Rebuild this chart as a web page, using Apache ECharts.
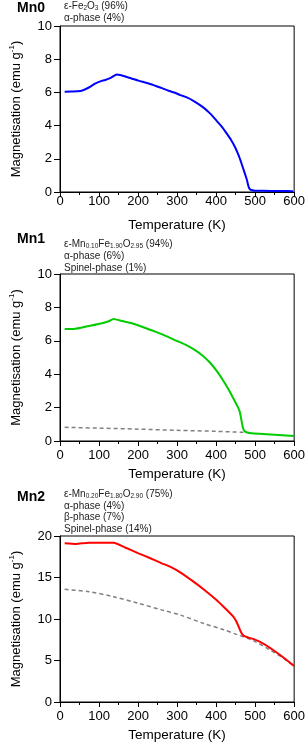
<!DOCTYPE html>
<html>
<head>
<meta charset="utf-8">
<script src="https://cdn.jsdelivr.net/npm/echarts@6/dist/echarts.min.js"></script>
<style>html,body{margin:0;padding:0;background:#fff}#c{width:308px;height:745px}</style>
</head>
<body>
<div id="c"></div>
<script>
// ---- data ----
const xTicks = [0, 100, 200, 300, 400, 500, 600];
const mn0T = [12, 30, 52, 65, 80, 91, 105, 116, 130, 146, 175, 201, 225, 244, 260, 278, 295, 308, 325, 345, 367, 385, 401, 415, 427, 438, 448, 457, 465, 471, 476, 479, 482, 485, 490, 499, 520, 560, 597];
const mn0M = [6.04, 6.05, 6.08, 6.19, 6.38, 6.55, 6.68, 6.75, 6.88, 7.08, 6.9, 6.71, 6.55, 6.40, 6.27, 6.10, 5.98, 5.84, 5.70, 5.45, 5.10, 4.72, 4.30, 3.92, 3.53, 3.15, 2.73, 2.25, 1.73, 1.3, 0.95, 0.72, 0.42, 0.22, 0.12, 0.08, 0.07, 0.06, 0.05];
const mn1T = [12, 35, 74, 108, 125, 137, 160, 184, 215, 244, 278, 296, 320, 345, 365, 384, 402, 418, 432, 444, 452, 459, 463, 466, 469, 473, 478, 490, 520, 560, 600];
const mn1M = [6.71, 6.71, 6.89, 7.05, 7.17, 7.31, 7.18, 7.05, 6.8, 6.55, 6.22, 6.03, 5.78, 5.46, 5.12, 4.70, 4.18, 3.62, 3.08, 2.56, 2.2, 1.86, 1.5, 1.1, 0.76, 0.6, 0.52, 0.46, 0.42, 0.36, 0.30];
const mn1RefT = [12, 100, 200, 300, 400, 470];
const mn1RefM = [0.82, 0.77, 0.71, 0.64, 0.58, 0.52];
const mn2T = [12, 40, 74, 100, 137, 170, 201, 230, 261, 282, 308, 342, 370, 401, 425, 444, 452, 458, 463, 468, 474, 482, 495, 520, 546, 570, 600];
const mn2M = [19.12, 19.04, 19.2, 19.2, 19.2, 18.55, 17.91, 17.35, 16.71, 16.3, 15.62, 14.5, 13.5, 12.29, 11.2, 10.28, 9.7, 9.05, 8.5, 8.1, 7.9, 7.78, 7.6, 7.07, 6.27, 5.45, 4.34];
const mn2RefT = [12, 74, 137, 201, 260, 308, 367, 420, 452, 495, 537, 570, 600];
const mn2RefM = [13.57, 13.29, 12.69, 11.89, 11.1, 10.48, 9.48, 8.7, 8.15, 7.4, 6.3, 5.35, 4.3];

const panelNames = ['Mn0', 'Mn1', 'Mn2'];
const phaseLines = [
  ['{a|ε-Fe}{s|2}{a|O}{s|3}{a| (96%)}', '{a|α-phase (4%)}'],
  ['{a|ε-Mn}{s|0.10}{a|Fe}{s|1.90}{a|O}{s|2.95}{a| (94%)}', '{a|α-phase (6%)}', '{a|Spinel-phase (1%)}'],
  ['{a|ε-Mn}{s|0.20}{a|Fe}{s|1.80}{a|O}{s|2.90}{a| (75%)}', '{a|α-phase (4%)}', '{a|β-phase (7%)}', '{a|Spinel-phase (14%)}']
];

// ---- layout ----
const FONT = '"Liberation Sans", Arial, sans-serif';
const grids = [
  {left: 59.5, top: 26, width: 235.5, height: 166},
  {left: 59.5, top: 274, width: 235.5, height: 167},
  {left: 59.5, top: 536, width: 235.5, height: 166}
];
const yRanges = [[0, 10, 2], [0, 10, 2], [0, 20, 5]];
const xLabelMargin = [3, 8, 8];
const nameY = [8, 239, 497];
const phaseY = [[6, 18], [244, 256, 268], [494, 506, 517.5, 529]];

const zip = (a, b) => a.map((v, i) => [v, b[i]]);

const option = {
  animation: false,
  backgroundColor: '#fff',
  grid: grids.map(g => Object.assign({show: true, borderColor: '#000', borderWidth: 1, backgroundColor: 'transparent'}, g)),
  xAxis: grids.map((g, i) => ({
    type: 'value', gridIndex: i, min: xTicks[0], max: xTicks[xTicks.length - 1], interval: xTicks[1] - xTicks[0],
    name: 'Temperature (K)', nameLocation: 'middle', nameGap: 26,
    nameTextStyle: {fontFamily: FONT, fontSize: 13.5, color: '#000'},
    axisLine: {show: true, onZero: false, lineStyle: {color: '#000', width: 1}},
    axisTick: {show: true, inside: false, length: 5, lineStyle: {color: '#000'}},
    minorTick: {show: true, splitNumber: 2, length: 3, lineStyle: {color: '#000'}},
    splitLine: {show: false}, minorSplitLine: {show: false},
    axisLabel: {fontFamily: FONT, fontSize: 13, color: '#000', margin: xLabelMargin[i]}
  })),
  yAxis: grids.map((g, i) => ({
    type: 'value', gridIndex: i, min: yRanges[i][0], max: yRanges[i][1], interval: yRanges[i][2],
    name: '{m|Magnetisation (emu g}{p|-1}{m|)}', nameLocation: 'middle', nameRotate: 90, nameGap: 36,
    nameTextStyle: {fontFamily: FONT, fontSize: 13, color: '#000',
      rich: {m: {fontFamily: FONT, fontSize: 13, lineHeight: 16, color: '#000'},
             p: {fontFamily: FONT, fontSize: 8, lineHeight: 8, verticalAlign: 'top', color: '#000'}}},
    axisLine: {show: true, onZero: false, lineStyle: {color: '#000', width: 1}},
    axisTick: {show: true, inside: false, length: 6, lineStyle: {color: '#000'}},
    splitLine: {show: false},
    axisLabel: {fontFamily: FONT, fontSize: 13, color: '#000', margin: 8}
  })),
  series: [
    {type: 'line', xAxisIndex: 0, yAxisIndex: 0, data: zip(mn0T, mn0M), showSymbol: false, smooth: 0.2,
     lineStyle: {color: '#0000ff', width: 2}, z: 3},
    {type: 'line', xAxisIndex: 1, yAxisIndex: 1, data: zip(mn1RefT, mn1RefM), showSymbol: false, smooth: 0.3,
     lineStyle: {color: '#808080', width: 1.5, type: [4, 3]}, z: 2},
    {type: 'line', xAxisIndex: 1, yAxisIndex: 1, data: zip(mn1T, mn1M), showSymbol: false, smooth: 0.2,
     lineStyle: {color: '#00cc00', width: 2}, z: 3},
    {type: 'line', xAxisIndex: 2, yAxisIndex: 2, data: zip(mn2RefT, mn2RefM), showSymbol: false, smooth: 0.3,
     lineStyle: {color: '#808080', width: 1.5, type: [4, 3]}, z: 2},
    {type: 'line', xAxisIndex: 2, yAxisIndex: 2, data: zip(mn2T, mn2M), showSymbol: false, smooth: 0.2,
     lineStyle: {color: '#ff0000', width: 2}, z: 3}
  ],
  graphic: []
};

const richSub = {
  a: {fontFamily: FONT, fontSize: 10, lineHeight: 12, fill: '#222'},
  s: {fontFamily: FONT, fontSize: 6.5, lineHeight: 6.5, verticalAlign: 'bottom', fill: '#222'}
};
panelNames.forEach((n, i) => {
  option.graphic.push({type: 'text', x: 17, y: nameY[i], style: {text: n, font: 'bold 14px ' + FONT, fill: '#000', verticalAlign: 'middle', align: 'left'}});
  phaseLines[i].forEach((t, j) => {
    option.graphic.push({type: 'text', x: 64, y: phaseY[i][j], style: {text: t, rich: richSub, verticalAlign: 'middle', align: 'left', fill: '#222', font: '10px ' + FONT}});
  });
});

const chart = echarts.init(document.getElementById('c'), null, {renderer: 'canvas'});
chart.setOption(option);
</script>
</body>
</html>
